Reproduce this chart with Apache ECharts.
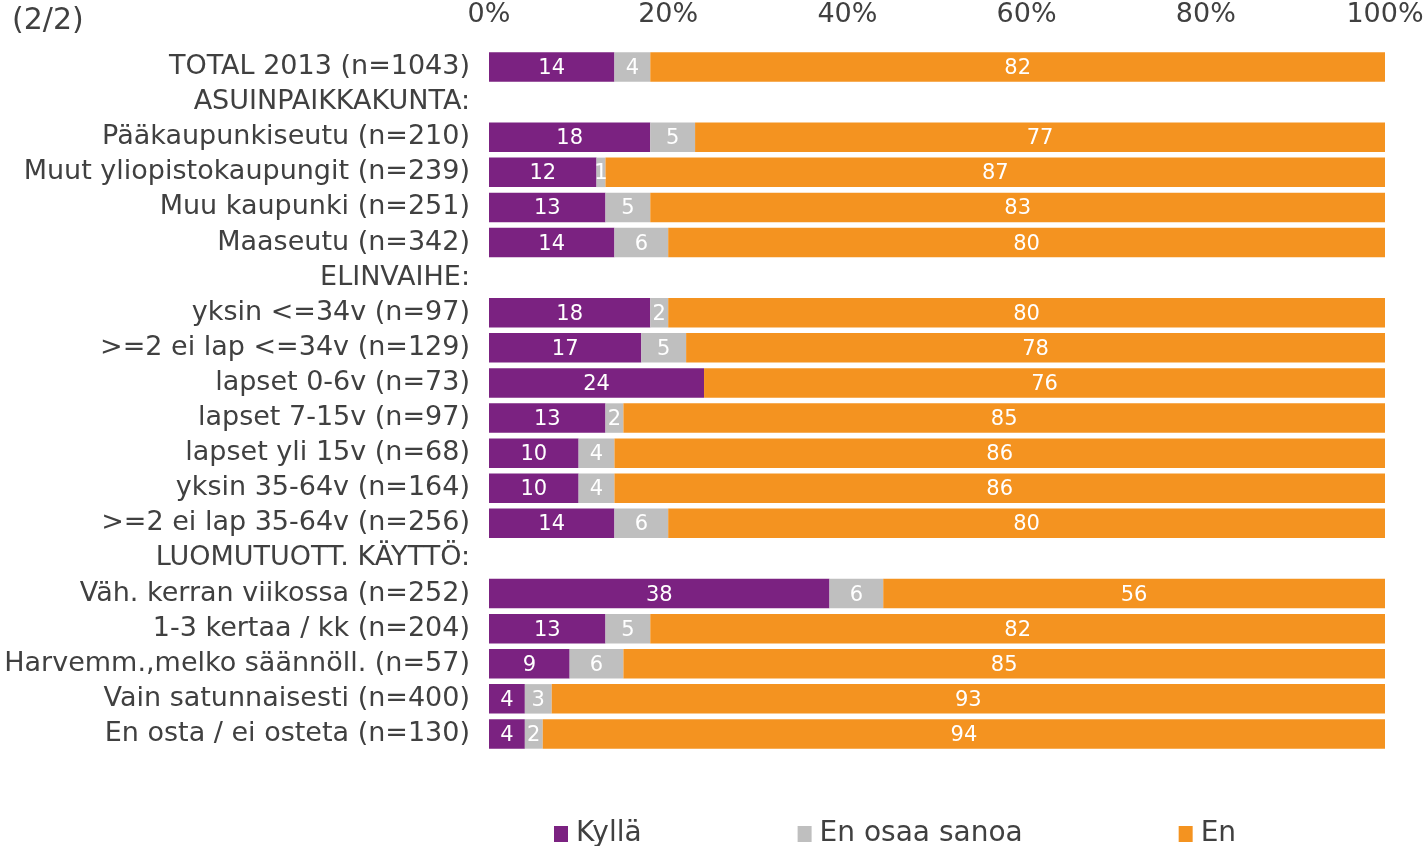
<!DOCTYPE html>
<html>
<head>
<meta charset="utf-8">
<title>Luomutuotteiden ostaminen</title>
<script src="https://cdn.jsdelivr.net/npm/echarts@6/dist/echarts.min.js"></script>
<style>
  html, body { margin: 0; padding: 0; background: #ffffff; }
  #chart { width: 1427px; height: 846px; }
</style>
</head>
<body>
<div id="chart"></div>
<script>
// Row labels, top to bottom (group headings have no bars)
const categories = [
  'TOTAL 2013 (n=1043)',
  'ASUINPAIKKAKUNTA:',
  'Pääkaupunkiseutu (n=210)',
  'Muut yliopistokaupungit (n=239)',
  'Muu kaupunki (n=251)',
  'Maaseutu (n=342)',
  'ELINVAIHE:',
  'yksin <=34v (n=97)',
  '>=2 ei lap <=34v (n=129)',
  'lapset 0-6v (n=73)',
  'lapset 7-15v (n=97)',
  'lapset yli 15v (n=68)',
  'yksin 35-64v (n=164)',
  '>=2 ei lap 35-64v (n=256)',
  'LUOMUTUOTT. KÄYTTÖ:',
  'Väh. kerran viikossa (n=252)',
  '1-3 kertaa / kk (n=204)',
  'Harvemm.,melko säännöll. (n=57)',
  'Vain satunnaisesti (n=400)',
  'En osta / ei osteta (n=130)'
];

const seriesNames = ['Kyllä', 'En osaa sanoa', 'En'];

// Percentages per row; null = heading row without a bar
const kylla      = [14, null, 18, 12, 13, 14, null, 18, 17, 24, 13, 10, 10, 14, null, 38, 13, 9, 4, 4];
const enOsaa     = [4,  null, 5,  1,  5,  6,  null, 2,  5,  0,  2,  4,  4,  6,  null, 6,  5,  6, 3, 2];
const en         = [82, null, 77, 87, 83, 80, null, 80, 78, 76, 85, 86, 86, 80, null, 56, 82, 85, 93, 94];

const xTicks = [0, 20, 40, 60, 80, 100];

const colors = ['#7B2281', '#BFBFBF', '#F49320'];
const FONT = "'DejaVu Sans', Verdana, sans-serif";

const chart = echarts.init(document.getElementById('chart'), null, { renderer: 'canvas' });

function barSeries(name, values, color) {
  return {
    name: name,
    type: 'bar',
    stack: 'total',
    data: values,
    barCategoryGap: '16%',
    itemStyle: { color: color },
    label: {
      show: true,
      position: 'inside',
      offset: [0, 1.5],
      color: '#ffffff',
      fontFamily: FONT,
      fontSize: 21,
      formatter: p => (p.value ? String(p.value) : '')
    },
    emphasis: { disabled: true }
  };
}

chart.setOption({
  animation: false,
  backgroundColor: '#ffffff',
  textStyle: { fontFamily: FONT },
  graphic: [{
    type: 'text',
    left: 12,
    top: 6,
    style: { text: '(2/2)', font: '30px ' + FONT, fill: '#404040' }
  }],
  grid: { left: 489, right: 42, top: 49.5, height: 702, containLabel: false },
  legend: {
    data: seriesNames,
    left: 549,
    top: 815,
    itemWidth: 14,
    itemHeight: 16,
    itemGap: 156,
    icon: 'rect',
    textStyle: { fontFamily: FONT, fontSize: 28, color: '#404040', padding: [0, 0, 0, 3] },
    selectedMode: false
  },
  xAxis: {
    type: 'value',
    position: 'top',
    min: xTicks[0],
    max: xTicks[xTicks.length - 1],
    interval: 20,
    axisLine: { show: false },
    axisTick: { show: false },
    splitLine: { show: false },
    axisLabel: {
      formatter: '{value}%',
      fontFamily: FONT,
      fontSize: 27,
      color: '#404040',
      margin: 21
    }
  },
  yAxis: {
    type: 'category',
    data: categories,
    inverse: true,
    axisLine: { show: false },
    axisTick: { show: false },
    axisLabel: {
      fontFamily: FONT,
      fontSize: 27,
      color: '#404040',
      margin: 19
    }
  },
  series: [
    barSeries(seriesNames[0], kylla, colors[0]),
    barSeries(seriesNames[1], enOsaa, colors[1]),
    barSeries(seriesNames[2], en, colors[2])
  ]
});
</script>
</body>
</html>
